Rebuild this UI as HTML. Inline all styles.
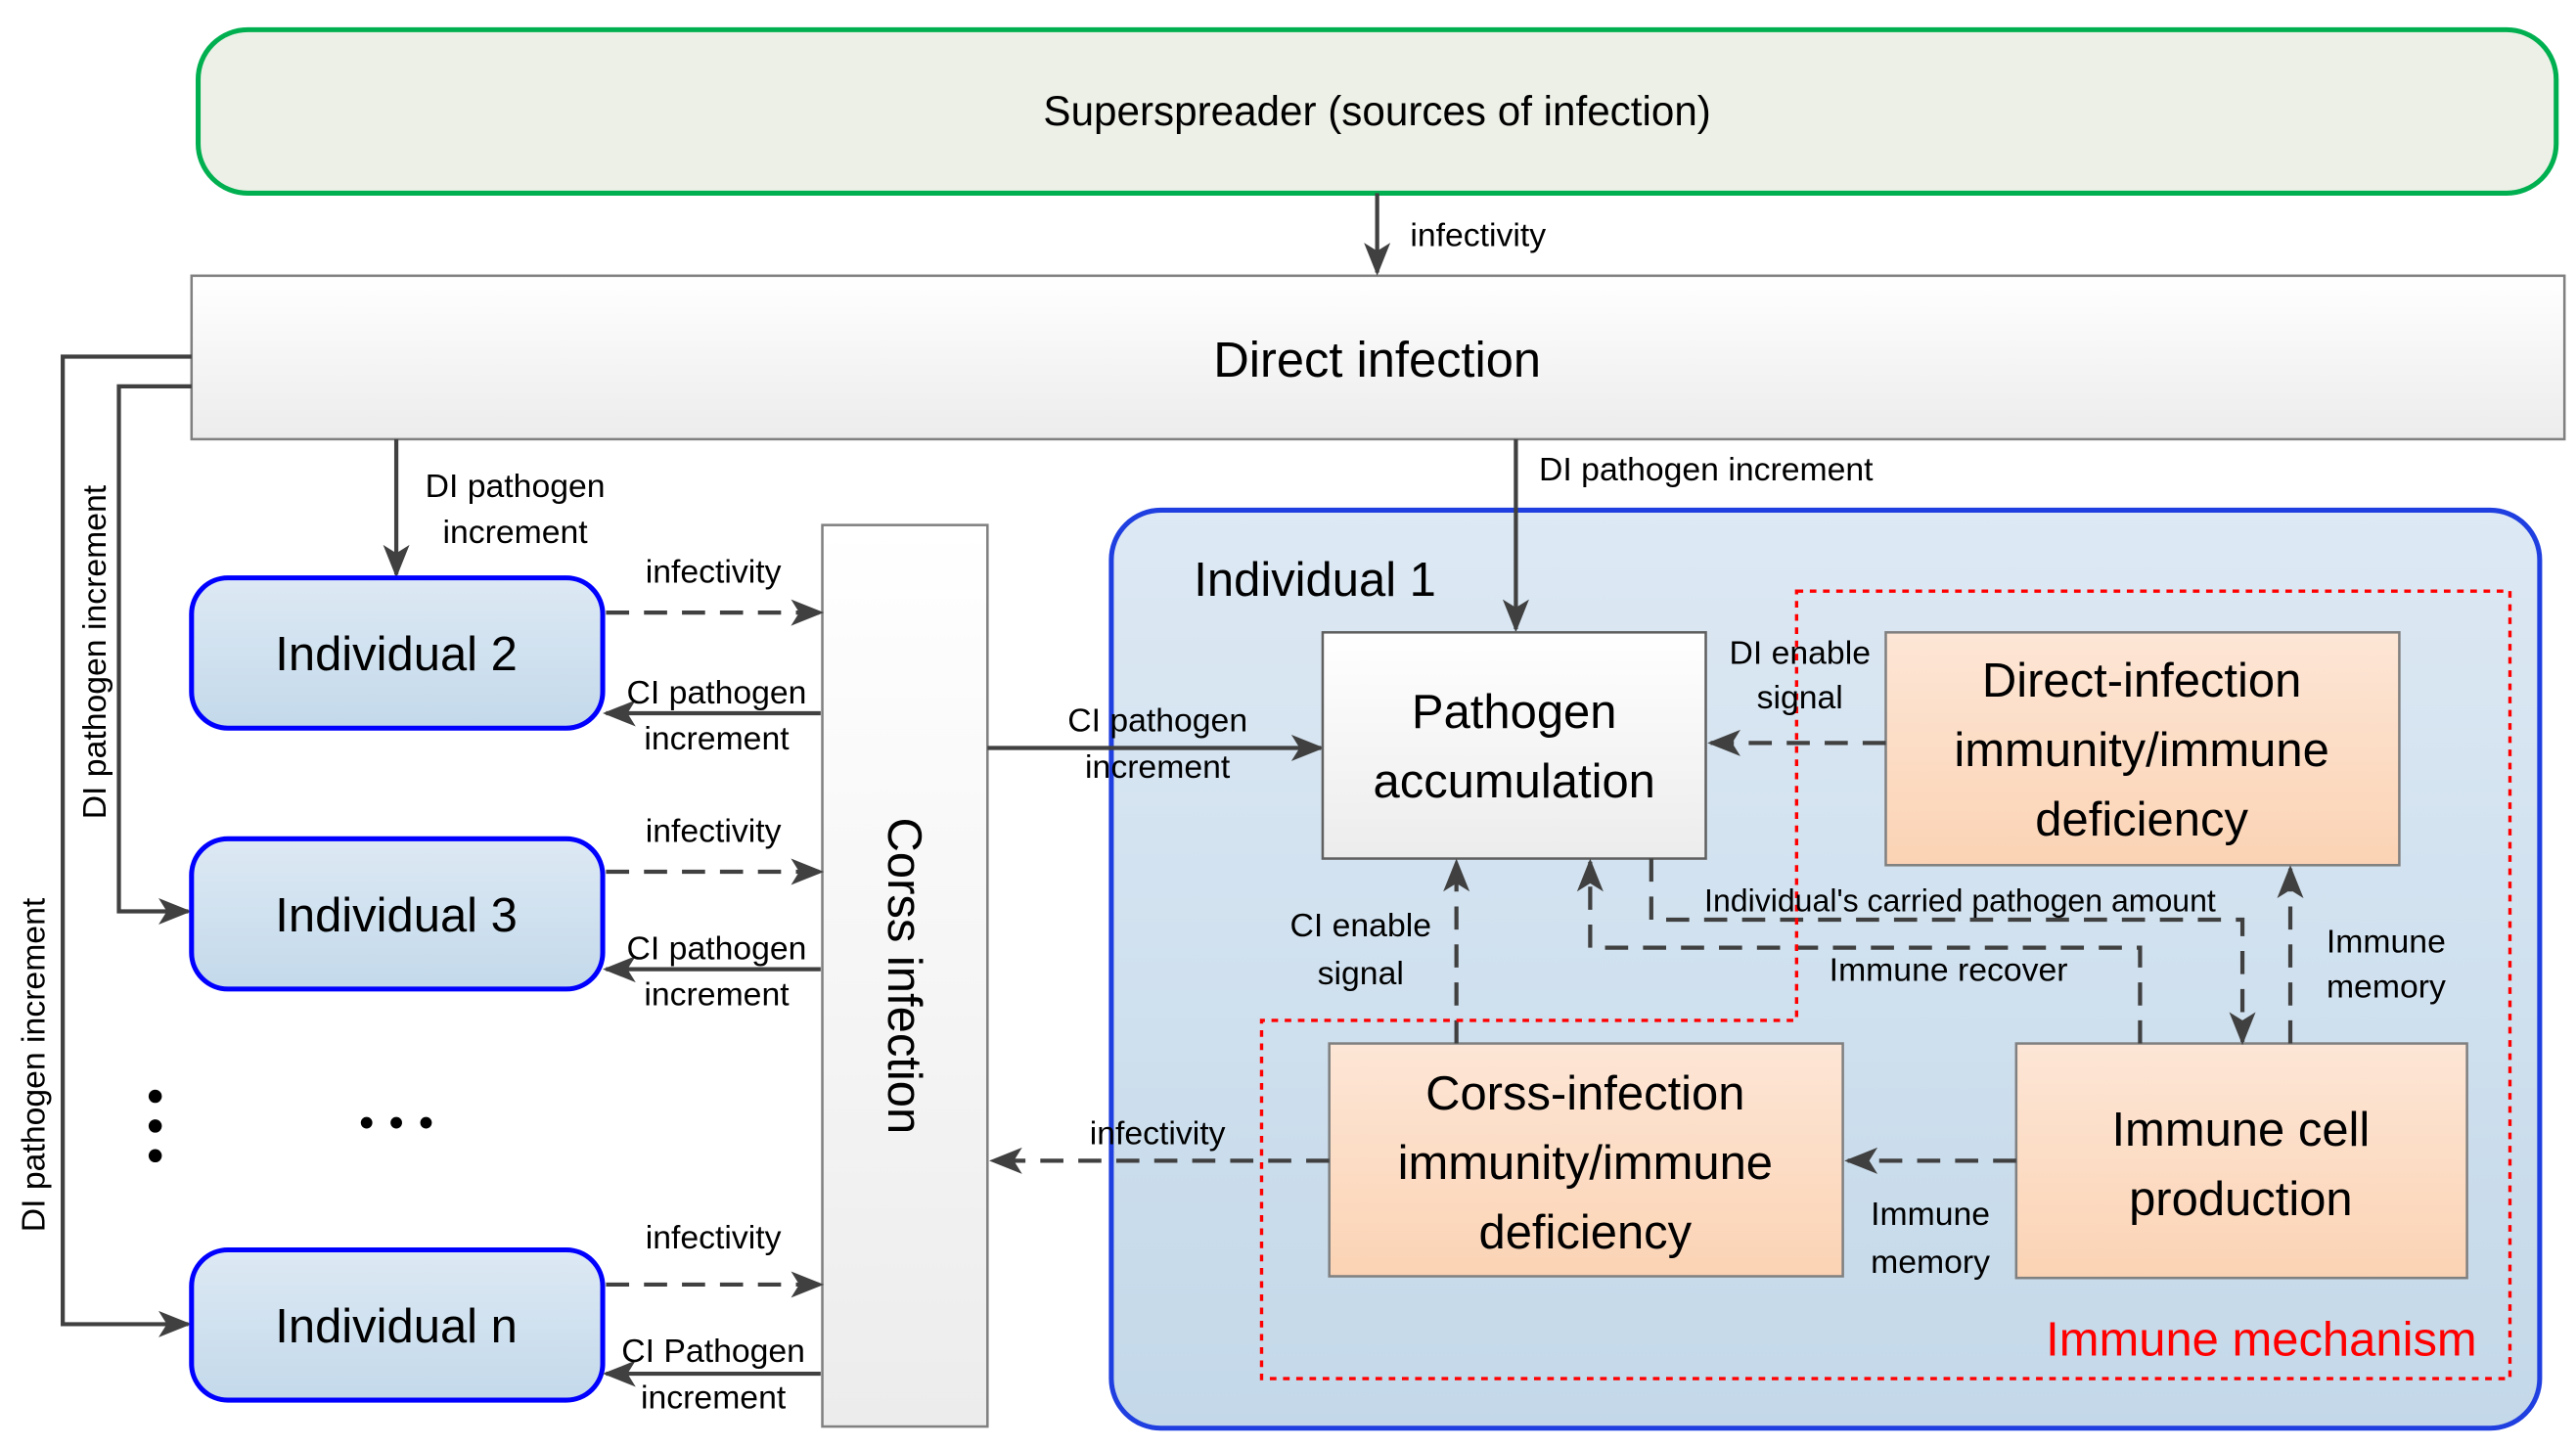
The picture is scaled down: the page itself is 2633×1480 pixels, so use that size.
<!DOCTYPE html>
<html><head><meta charset="utf-8"><style>html,body{margin:0;padding:0;background:#fff}svg{display:block}</style></head><body>
<svg width="2633" height="1480" viewBox="0 0 1560 877" preserveAspectRatio="none" xmlns="http://www.w3.org/2000/svg" font-family="Liberation Sans, sans-serif">
<defs>
<marker id="a" markerWidth="10" markerHeight="10" refX="9" refY="5" orient="auto" markerUnits="userSpaceOnUse" viewBox="0 0 10 10"><path d="M0,0 L10,5 L0,10 L3,5 z" fill="#404040"/></marker>
<marker id="b" markerWidth="20" markerHeight="20" refX="18" refY="10" orient="auto" markerUnits="userSpaceOnUse" viewBox="0 0 20 20"><path d="M0,2 L20,10 L0,18 L5,10 z" fill="#404040"/></marker>
<linearGradient id="gw" x1="0" y1="0" x2="0" y2="1"><stop offset="0" stop-color="#ffffff"/><stop offset="1" stop-color="#ececec"/></linearGradient>
<linearGradient id="gb" x1="0" y1="0" x2="0" y2="1"><stop offset="0" stop-color="#dde9f4"/><stop offset="1" stop-color="#c3d9ea"/></linearGradient>
<linearGradient id="gb1" x1="0" y1="0" x2="0" y2="1"><stop offset="0" stop-color="#dde9f4"/><stop offset="1" stop-color="#c3d8e9"/></linearGradient>
<linearGradient id="gp" x1="0" y1="0" x2="0" y2="1"><stop offset="0" stop-color="#fde6d6"/><stop offset="1" stop-color="#fbd3b4"/></linearGradient>
</defs>
<g stroke="#404040" stroke-width="2.5" fill="none">
<rect x="120" y="18" width="1428" height="99" rx="30" fill="#edf0e6" stroke="#00b050" stroke-width="3"/>
<rect x="116" y="167" width="1437" height="99" fill="url(#gw)" stroke="#808080" stroke-width="1.5"/>
<line x1="834" y1="117" x2="834" y2="165" marker-end="url(#b)"/>
<polyline points="116,216 38,216 38,802 114,802" marker-end="url(#b)"/>
<polyline points="116,234 72,234 72,552 114,552" marker-end="url(#b)"/>
<line x1="240" y1="266" x2="240" y2="348" marker-end="url(#b)"/>
<rect x="673" y="309" width="865" height="556" rx="30" fill="url(#gb1)" stroke="#1f3fe0" stroke-width="3"/>
<rect x="116" y="350" width="249" height="91" rx="22" fill="url(#gb)" stroke="#0000ff" stroke-width="3"/>
<rect x="116" y="508" width="249" height="91" rx="22" fill="url(#gb)" stroke="#0000ff" stroke-width="3"/>
<rect x="116" y="757" width="249" height="91" rx="22" fill="url(#gb)" stroke="#0000ff" stroke-width="3"/>
<rect x="498" y="318" width="100" height="546" fill="url(#gw)" stroke="#808080" stroke-width="1.5"/>
<g stroke-dasharray="14,9">
<line x1="367" y1="371" x2="497" y2="371" marker-end="url(#b)"/>
<line x1="367" y1="528" x2="497" y2="528" marker-end="url(#b)"/>
<line x1="367" y1="778" x2="497" y2="778" marker-end="url(#b)"/>
</g>
<line x1="497" y1="432" x2="367" y2="432" marker-end="url(#b)"/>
<line x1="497" y1="587" x2="367" y2="587" marker-end="url(#b)"/>
<line x1="497" y1="832" x2="367" y2="832" marker-end="url(#b)"/>
<line x1="918" y1="266" x2="918" y2="381" marker-end="url(#b)"/>
<line x1="598" y1="453" x2="800" y2="453" marker-end="url(#b)"/>
<rect x="801" y="383" width="232" height="137" fill="url(#gw)" stroke="#606060" stroke-width="1.5"/>
<rect x="1142" y="383" width="311" height="141" fill="url(#gp)" stroke="#808080" stroke-width="1.5"/>
<rect x="805" y="632" width="311" height="141" fill="url(#gp)" stroke="#808080" stroke-width="1.5"/>
<rect x="1221" y="632" width="273" height="142" fill="url(#gp)" stroke="#808080" stroke-width="1.5"/>
<g stroke-dasharray="14,9">
<line x1="1142" y1="450" x2="1036" y2="450" marker-end="url(#b)"/>
<line x1="882" y1="632" x2="882" y2="522" marker-end="url(#b)"/>
<polyline points="1000,520 1000,557 1358,557 1358,631" marker-end="url(#b)"/>
<polyline points="1296,632 1296,574 963,574 963,522" marker-end="url(#b)"/>
<line x1="1387" y1="632" x2="1387" y2="526" marker-end="url(#b)"/>
<line x1="1221" y1="703" x2="1119" y2="703" marker-end="url(#b)"/>
<line x1="805" y1="703" x2="601" y2="703" marker-end="url(#b)"/>
</g>
<polygon points="1088,358 1520,358 1520,835 764,835 764,618 1088,618" stroke="#ff0000" stroke-width="2" stroke-dasharray="4,4"/>
</g>
<g fill="#000" font-size="20">
<circle cx="94" cy="664" r="4"/><circle cx="94" cy="682" r="4"/><circle cx="94" cy="700" r="4"/>
<circle cx="222" cy="680" r="3.5"/><circle cx="240" cy="680" r="3.5"/><circle cx="258" cy="680" r="3.5"/>
<text x="834" y="76" font-size="25" text-anchor="middle">Superspreader (sources of infection)</text>
<text x="854" y="149">infectivity</text>
<text x="834" y="228" font-size="30" text-anchor="middle">Direct infection</text>
<text transform="translate(64,395) rotate(-90)" text-anchor="middle">DI pathogen  increment</text>
<text transform="translate(27,645) rotate(-90)" text-anchor="middle">DI pathogen increment</text>
<text x="312" y="301" text-anchor="middle">DI pathogen</text>
<text x="312" y="329" text-anchor="middle">increment</text>
<text x="240" y="406" font-size="29" text-anchor="middle">Individual 2</text>
<text x="240" y="564" font-size="29" text-anchor="middle">Individual 3</text>
<text x="240" y="813" font-size="29" text-anchor="middle">Individual n</text>
<text x="432" y="353" text-anchor="middle">infectivity</text>
<text x="434" y="426" text-anchor="middle">CI pathogen</text>
<text x="434" y="454" text-anchor="middle">increment</text>
<text x="432" y="510" text-anchor="middle">infectivity</text>
<text x="434" y="581" text-anchor="middle">CI pathogen</text>
<text x="434" y="609" text-anchor="middle">increment</text>
<text x="432" y="756" text-anchor="middle">infectivity</text>
<text x="432" y="825" text-anchor="middle">CI Pathogen</text>
<text x="432" y="853" text-anchor="middle">increment</text>
<text transform="translate(538,591) rotate(90)" font-size="29" text-anchor="middle">Corss infection</text>
<text x="723" y="361" font-size="29">Individual 1</text>
<text x="932" y="291">DI pathogen increment</text>
<text x="701" y="443" text-anchor="middle">CI pathogen</text>
<text x="701" y="471" text-anchor="middle">increment</text>
<text x="917" y="441" font-size="29" text-anchor="middle">Pathogen</text>
<text x="917" y="483" font-size="29" text-anchor="middle">accumulation</text>
<text x="1090" y="402" text-anchor="middle">DI enable</text>
<text x="1090" y="429" text-anchor="middle">signal</text>
<text x="1297" y="422" font-size="29" text-anchor="middle">Direct-infection</text>
<text x="1297" y="464" font-size="29" text-anchor="middle">immunity/immune</text>
<text x="1297" y="506" font-size="29" text-anchor="middle">deficiency</text>
<text x="824" y="567" text-anchor="middle">CI enable</text>
<text x="824" y="596" text-anchor="middle">signal</text>
<text x="1187" y="552" text-anchor="middle" font-size="19">Individual's carried pathogen amount</text>
<text x="1180" y="594" text-anchor="middle">Immune recover</text>
<text x="1445" y="577" text-anchor="middle">Immune</text>
<text x="1445" y="604" text-anchor="middle">memory</text>
<text x="960" y="672" font-size="29" text-anchor="middle">Corss-infection</text>
<text x="960" y="714" font-size="29" text-anchor="middle">immunity/immune</text>
<text x="960" y="756" font-size="29" text-anchor="middle">deficiency</text>
<text x="1357" y="694" font-size="29" text-anchor="middle">Immune cell</text>
<text x="1357" y="736" font-size="29" text-anchor="middle">production</text>
<text x="1169" y="742" text-anchor="middle">Immune</text>
<text x="1169" y="771" text-anchor="middle">memory</text>
<text x="701" y="693" text-anchor="middle">infectivity</text>
<text x="1500" y="821" font-size="29" text-anchor="end" fill="#ff0000">Immune mechanism</text>
</g>
</svg>
</body></html>
